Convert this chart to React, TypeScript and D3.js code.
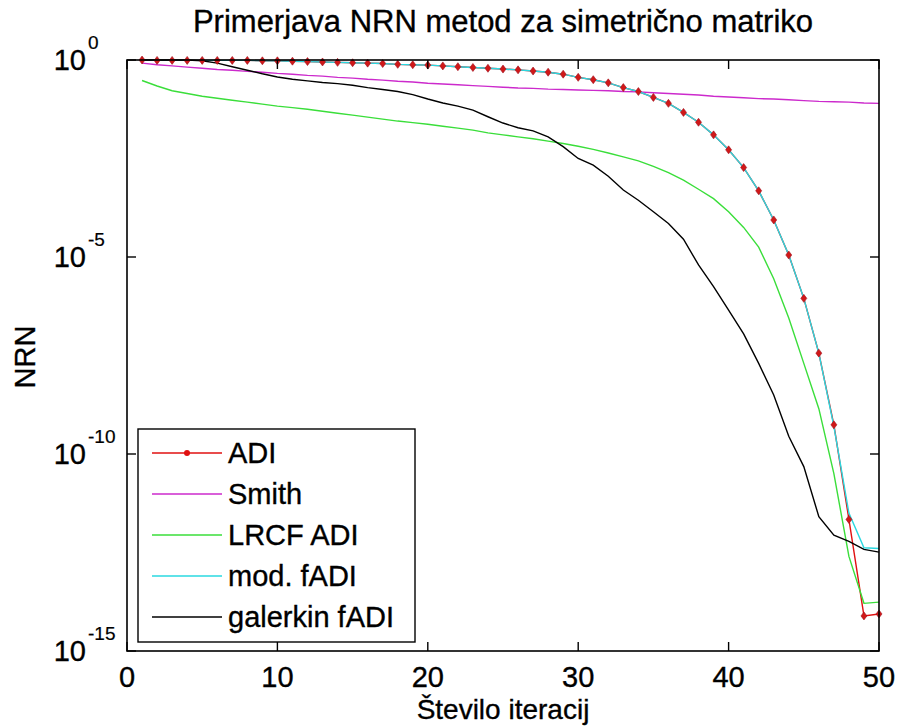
import React from "react";
import * as d3 from "d3";

const iterations = d3.range(1, 51);

// log10 of NRN
const adiLog = [
  0, -0.01, -0.01, -0.01, -0.01, -0.01, -0.01, -0.01, -0.02, -0.02,
  -0.03, -0.04, -0.05, -0.06, -0.07, -0.08, -0.09, -0.11, -0.12, -0.13,
  -0.15, -0.17, -0.19, -0.21, -0.23, -0.25, -0.28, -0.31, -0.36, -0.44,
  -0.5, -0.58, -0.7, -0.8, -0.95, -1.1, -1.33, -1.58, -1.9, -2.28,
  -2.73, -3.32, -4.06, -4.95, -6.05, -7.44, -9.26, -11.66, -14.11, -14.06,
];
const smithLog = [
  -0.08, -0.12, -0.15, -0.18, -0.21, -0.24, -0.26, -0.29, -0.31, -0.34,
  -0.36, -0.39, -0.41, -0.44, -0.46, -0.49, -0.51, -0.54, -0.56, -0.59,
  -0.61, -0.63, -0.65, -0.67, -0.69, -0.71, -0.72, -0.74, -0.75, -0.76,
  -0.77, -0.78, -0.8, -0.81, -0.83, -0.85, -0.87, -0.89, -0.92, -0.94,
  -0.96, -0.98, -0.99, -1.01, -1.03, -1.05, -1.06, -1.07, -1.09, -1.1,
];
const lrcfLog = [
  -0.52, -0.66, -0.78, -0.85, -0.92, -0.97, -1.02, -1.07, -1.12, -1.17,
  -1.21, -1.25, -1.3, -1.35, -1.4, -1.45, -1.5, -1.55, -1.59, -1.63,
  -1.68, -1.73, -1.78, -1.85, -1.9, -1.95, -2.0, -2.06, -2.12, -2.19,
  -2.27, -2.36, -2.46, -2.56, -2.7, -2.86, -3.05, -3.28, -3.52, -3.85,
  -4.25, -4.75, -5.55, -6.55, -7.7, -8.85, -10.5, -12.6, -13.79, -13.76,
];
const modFadiLog = [
  0, -0.01, -0.01, -0.01, -0.01, -0.01, -0.01, -0.01, -0.02, -0.02,
  -0.03, -0.04, -0.05, -0.06, -0.07, -0.08, -0.09, -0.11, -0.12, -0.13,
  -0.15, -0.17, -0.19, -0.21, -0.23, -0.25, -0.28, -0.31, -0.36, -0.44,
  -0.5, -0.58, -0.7, -0.8, -0.95, -1.1, -1.33, -1.58, -1.9, -2.28,
  -2.73, -3.32, -4.06, -4.95, -6.05, -7.44, -9.3, -11.5, -12.38, -12.4,
];
const galerkinLog = [
  0, 0, 0, 0, -0.02, -0.08, -0.17, -0.26, -0.35, -0.43,
  -0.49, -0.53, -0.57, -0.6, -0.64, -0.7, -0.75, -0.8, -0.88, -0.99,
  -1.09, -1.17, -1.27, -1.44, -1.6, -1.72, -1.8, -1.95, -2.2, -2.5,
  -2.67, -2.95, -3.3, -3.56, -3.85, -4.15, -4.55, -5.2, -5.75, -6.35,
  -6.95, -7.7, -8.5, -9.55, -10.32, -11.59, -12.06, -12.22, -12.42, -12.49,
];

const xTicks = [0, 10, 20, 30, 40, 50];
const yTickExps = [0, -5, -10, -15];

const seriesNames = ["ADI", "Smith", "LRCF ADI", "mod. fADI", "galerkin fADI"];
const seriesColors = ["#e01010", "#cc2acc", "#3ade3a", "#2ad8e0", "#000000"];
const seriesLogs = [adiLog, smithLog, lrcfLog, modFadiLog, galerkinLog];

const L = 127, R = 879, T = 60, B = 651;
const FONT = "Arial, 'Liberation Sans', Helvetica, sans-serif";
const TXT = { fontFamily: FONT, fill: "#000", stroke: "#000", strokeWidth: 0.35 } as const;

export default function App() {
  const x = d3.scaleLinear().domain([0, 50]).range([L, R]);
  const y = d3.scaleLog().domain([1e-15, 1]).range([B, T]);
  const line = d3
    .line<number>()
    .x((_, i) => x(iterations[i]))
    .y((v) => y(Math.pow(10, v)));

  const diamond = (cx: number, cy: number) =>
    `M${cx},${cy - 4}L${cx + 3},${cy}L${cx},${cy + 4}L${cx - 3},${cy}Z`;

  const legendRows = [453, 494, 535, 576, 617];

  return (
    <svg width={898} height={726} style={{ display: "block", position: "absolute", left: 0, top: 0, background: "#fff" }}>
      <rect x={0} y={0} width={898} height={726} fill="#fff" />
      <text x={(L + R) / 2} y={32} textAnchor="middle" fontSize={31} {...TXT}>
        Primerjava NRN metod za simetrično matriko
      </text>
      <defs>
        <clipPath id="plotclip">
          <rect x={L - 4} y={T - 5} width={R - L + 8} height={B - T + 10} />
        </clipPath>
      </defs>
      <g clipPath="url(#plotclip)">
        {seriesLogs.map((vals, si) => (
          <path key={si} d={line(vals) || ""} fill="none" stroke={seriesColors[si]} strokeWidth={1.4} />
        ))}
        {adiLog.map((v, i) => (
          <path
            key={"m" + i}
            d={diamond(x(iterations[i]), y(Math.pow(10, v)))}
            fill="#d01818"
            stroke="#a01020"
            strokeWidth={0.6}
          />
        ))}
      </g>
      <rect x={L} y={T} width={R - L} height={B - T} fill="none" stroke="#000" strokeWidth={1.6} />
      {xTicks.map((t) => (
        <g key={"xt" + t}>
          <line x1={x(t)} x2={x(t)} y1={B} y2={B - 9} stroke="#000" strokeWidth={1.4} />
          <line x1={x(t)} x2={x(t)} y1={T} y2={T + 9} stroke="#000" strokeWidth={1.4} />
          <text x={x(t)} y={687} textAnchor="middle" fontSize={29} {...TXT}>
            {t}
          </text>
        </g>
      ))}
      {yTickExps.map((e) => {
        const yy = y(Math.pow(10, e));
        return (
          <g key={"yt" + e}>
            <line x1={L} x2={L + 9} y1={yy} y2={yy} stroke="#000" strokeWidth={1.4} />
            <line x1={R} x2={R - 9} y1={yy} y2={yy} stroke="#000" strokeWidth={1.4} />
            <text x={86} y={yy + 10} textAnchor="end" fontSize={29} {...TXT}>
              10
            </text>
            <text x={88} y={yy - 11} textAnchor="start" fontSize={19} {...TXT} strokeWidth={0.2}>
              {e === 0 ? "0" : String(e)}
            </text>
          </g>
        );
      })}
      <text x={503} y={719} textAnchor="middle" fontSize={28} {...TXT}>
        Število iteracij
      </text>
      <text transform="translate(35,357) rotate(-90)" textAnchor="middle" fontSize={29} {...TXT}>
        NRN
      </text>
      <rect x={138} y={429} width={277} height={213} fill="#fff" stroke="#000" strokeWidth={1.4} />
      {seriesNames.map((name, i) => (
        <g key={name}>
          <line x1={152} x2={222} y1={legendRows[i]} y2={legendRows[i]} stroke={seriesColors[i]} strokeWidth={1.4} />
          {i === 0 && <circle cx={187} cy={legendRows[i]} r={3} fill="#e01010" />}
          <text x={228} y={legendRows[i] + 10} fontSize={29} {...TXT}>
            {name}
          </text>
        </g>
      ))}
    </svg>
  );
}
